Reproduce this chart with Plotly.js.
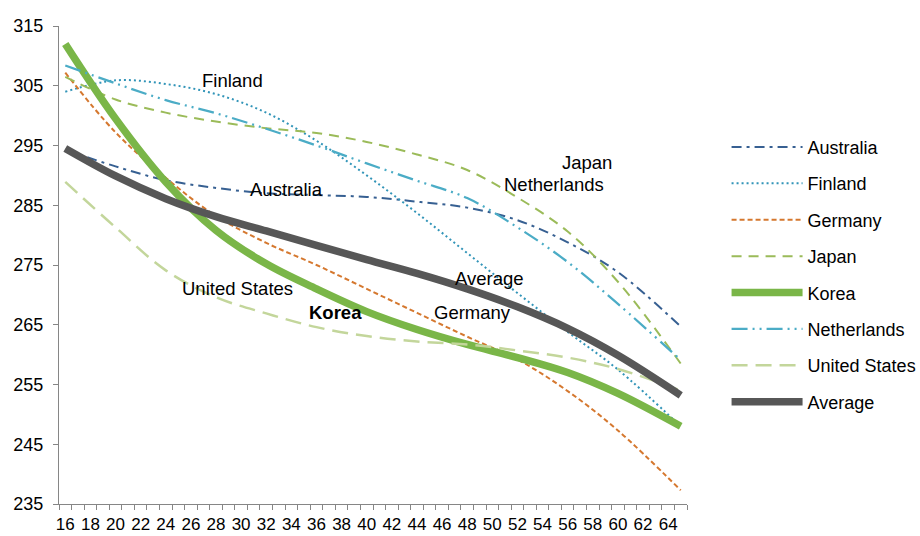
<!DOCTYPE html>
<html>
<head>
<meta charset="utf-8">
<script src="https://cdn.plot.ly/plotly-3.0.1.min.js"></script>
<style>html,body{margin:0;padding:0;background:#fff;}#chart{width:920px;height:536px;}</style>
</head>
<body>
<div id="chart"></div>
<script>
const ages = [16, 20, 24, 28, 32, 36, 40, 44, 48, 52, 56, 60, 65];

const australia   = [294.3, 291.5, 289.2, 287.9, 287.0, 286.7, 286.4, 285.6, 284.6, 282.5, 278.8, 273.8, 264.7];
const finland     = [304.0, 305.9, 305.3, 303.6, 300.5, 295.8, 290.0, 283.7, 277.0, 270.3, 263.8, 257.5, 248.0];
const germany     = [307.2, 297.2, 289.6, 283.2, 278.7, 275.0, 271.0, 267.0, 263.0, 259.2, 253.9, 247.3, 237.3];
const japan       = [306.5, 302.7, 300.5, 299.0, 297.9, 297.1, 295.6, 293.5, 290.9, 286.3, 280.6, 272.2, 258.5];
const korea       = [312.0, 299.5, 288.9, 280.8, 275.2, 271.0, 267.2, 264.2, 261.7, 259.5, 257.0, 253.5, 248.0];
const netherlands = [308.4, 305.4, 302.6, 300.4, 297.8, 295.0, 292.0, 289.1, 286.2, 281.3, 275.5, 268.5, 259.1];
const unitedStates= [288.9, 281.3, 274.1, 269.6, 266.9, 264.6, 263.1, 262.2, 261.7, 260.7, 259.5, 257.6, 254.0];
const average     = [294.5, 289.9, 286.1, 283.1, 280.7, 278.3, 275.9, 273.6, 271.0, 268.0, 264.4, 259.9, 253.2];

const seriesNames = ["Australia", "Finland", "Germany", "Japan", "Korea", "Netherlands", "United States", "Average"];
const seriesValues = [australia, finland, germany, japan, korea, netherlands, unitedStates, average];

const xTickLabels = [16,18,20,22,24,26,28,30,32,34,36,38,40,42,44,46,48,50,52,54,56,58,60,62,64];
const yTicks = [235, 245, 255, 265, 275, 285, 295, 305, 315];

// In-chart labels
const labelTexts  = ["Finland", "Australia", "Japan", "Netherlands", "Average", "United States", "Korea", "Germany"];
const labelAges   = [29.3, 33.6, 57.5, 54.9, 49.8, 29.7, 37.5, 48.4];
const labelValues = [305.8, 287.7, 292.2, 288.5, 272.8, 271.0, 267.0, 267.0];
const labelBold   = [false, false, false, false, false, false, true, false];

const styles = [
  {color: '#376092', width: 2,    dash: '10px,5px,3px,5px'},
  {color: '#3194B8', width: 2,    dash: '2px,3px'},
  {color: '#D5782F', width: 2,    dash: '5px,3px'},
  {color: '#9BBB59', width: 2,    dash: '10px,7px'},
  {color: '#7AB648', width: 7.5,  dash: 'solid'},
  {color: '#4BACC6', width: 2.25, dash: '16px,5px,2px,5px,2px,5px'},
  {color: '#C3D69B', width: 2.5,  dash: '16px,8px'},
  {color: '#575757', width: 7.5,  dash: 'solid'}
];

const FONT = '"Liberation Sans", Arial, sans-serif';

const traces = seriesNames.map((name, i) => ({
  type: 'scatter',
  mode: 'lines',
  name: name,
  legendgroup: name,
  x: ages,
  y: seriesValues[i],
  line: {color: styles[i].color, width: styles[i].width, dash: styles[i].dash, shape: 'spline', smoothing: 1},
  hoverinfo: 'skip'
}));

const annotations = labelTexts.map((t, i) => ({
  x: labelAges[i], y: labelValues[i], xref: 'x', yref: 'y',
  text: labelBold[i] ? '<b>' + t + '</b>' : t,
  showarrow: false,
  font: {family: FONT, size: 18.5, color: '#000'}
}));

const layout = {
  width: 920, height: 536,
  margin: {l: 59, r: 233, t: 26, b: 32, pad: 0, autoexpand: false},
  paper_bgcolor: '#fff', plot_bgcolor: '#fff',
  font: {family: FONT, size: 18, color: '#000'},
  showlegend: true,
  legend: {
    x: 1.063, y: 0.785, xanchor: 'left', yanchor: 'top',
    traceorder: 'grouped', tracegroupgap: 10,
    itemwidth: 71,
    font: {family: FONT, size: 18, color: '#000'},
    bgcolor: 'rgba(0,0,0,0)'
  },
  xaxis: {
    range: [15.5, 65.5],
    tickmode: 'array', tickvals: xTickLabels, ticktext: xTickLabels.map(String),
    ticks: '', showgrid: false, zeroline: false,
    showline: true, linecolor: '#868686', linewidth: 1,
    tickfont: {family: FONT, size: 17, color: '#000'},
    ticklabelstandoff: 5,
    minor: {tick0: 15.5, dtick: 1, ticks: 'outside', ticklen: 5, tickcolor: '#868686', tickwidth: 1, showgrid: false}
  },
  yaxis: {
    range: [235, 315],
    tickmode: 'array', tickvals: yTicks, ticktext: yTicks.map(String),
    ticks: 'outside', ticklen: 5, tickcolor: '#868686', tickwidth: 1,
    showgrid: false, zeroline: false,
    showline: true, linecolor: '#868686', linewidth: 1,
    tickfont: {family: FONT, size: 18, color: '#000'},
    ticklabelstandoff: 6
  },
  annotations: annotations
};

Plotly.newPlot('chart', traces, layout, {displayModeBar: false, staticPlot: true});
</script>
</body>
</html>
